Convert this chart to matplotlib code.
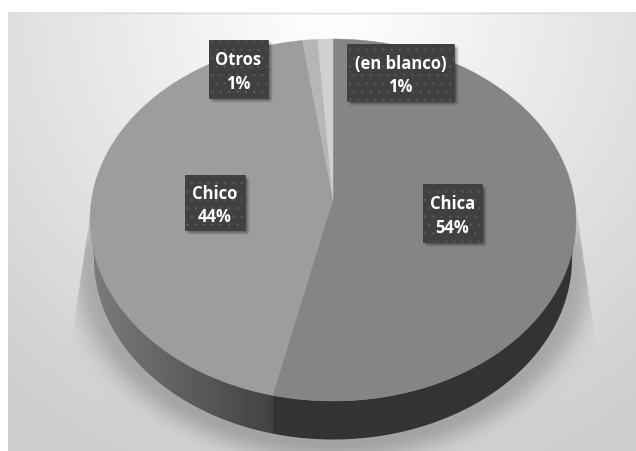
import numpy as np
import matplotlib
matplotlib.use("Agg")
import matplotlib.pyplot as plt
from matplotlib.patches import Polygon, Rectangle

# Survey shares, clockwise from twelve o'clock
categories = ["Chica", "Chico", "Otros", "(en blanco)"]
shares = [54, 44, 1, 1]
top_colors = ["#858585", "#9d9d9d", "#b6b6b6", "#d0d0d0"]

W, H = 636, 452
cx, cy, rx, ry = 333.0, 221.0, 243.0, 181.0   # rim of the top face
apex = (333.0, 200.0)                          # where the slices meet
depth = 38.5
label_boxes = {"Chica": (423, 185, 59, 58), "Chico": (185, 176, 60, 55),
               "Otros": (209, 41, 59, 58), "(en blanco)": (347, 45, 107, 57)}

plt.rcParams["hatch.linewidth"] = 0.6
plt.rcParams["hatch.color"] = "#575757"

fig = plt.figure(figsize=(W / 100, H / 100), dpi=100)
ax = fig.add_axes([0, 0, 1, 1])
ax.axis("off")

yy, xx = np.mgrid[0:H, 0:W] + 0.5

# Chart area: radial fade from white behind the disc to light grey at the corners
bg = 255 - 0.1 * np.hypot(xx - cx, (yy - 10) * 1.0)
bg = np.clip(bg, 205, 255)

# Soft floor shadow around the lower half, cut off along two slanted side lines
dist = (np.sqrt(((xx - cx) / (rx - 2)) ** 2 + ((yy - (cy + depth + 2)) / (ry + 2)) ** 2) - 1) * rx
falloff = np.exp(-(np.clip(dist, 0, None) / 24.0) ** 2)
left_cut = 88 - (yy - 225) * 14 / 95
right_cut = 578 + (yy - 215) * 15 / 105
inside = np.clip(xx - left_cut, 0, 1.5) / 1.5 * np.clip(right_cut - xx, 0, 1.5) / 1.5
bg = bg - 48 * falloff * inside * np.clip((yy - 190) / 60, 0, 1)

bg[yy < 13] = 255
bg[xx < 8] = 255
ax.imshow(bg, cmap="gray", vmin=0, vmax=255, extent=(0, W, H, 0), zorder=0, aspect="auto")
ax.plot([8, W], [13.5, 13.5], color="#dedede", lw=1, zorder=1)


def rim(t, yc=cy, a=rx, b=ry):
    return np.column_stack([cx + a * np.sin(t), yc - b * np.cos(t)])


# Wall of the disc: lit from the left on the Chico side, dark under Chica
edges = np.radians(np.cumsum([0] + shares) * 3.6)
t_all = np.linspace(np.pi / 2, 3 * np.pi / 2, 240)
wall = np.vstack([rim(t_all, cy + depth, rx - 4, ry), rim(t_all, cy, rx - 1, ry)[::-1]])
wall_patch = Polygon(wall, closed=True, fc="none", ec="none", zorder=2)
ax.add_patch(wall_patch)
split = cx + rx * np.sin(edges[1])
shade = np.where(xx < split, 122 - 56 * np.clip((xx - 95) / (split - 95), 0, 1), 51.0)
wall_img = ax.imshow(shade, cmap="gray", vmin=0, vmax=255, extent=(0, W, H, 0), zorder=2, aspect="auto")
wall_img.set_clip_path(wall_patch)

# Top face
for v0, v1, color in zip(edges[:-1], edges[1:], top_colors):
    arc = rim(np.linspace(v0, v1, 200))
    ax.add_patch(Polygon(np.vstack([apex, arc]), closed=True, fc=color, ec=color, lw=0.3, zorder=3))

# Soft drop shadows under the label boxes
alpha = np.zeros((H, W))
for x, y, w, h in label_boxes.values():
    a = np.clip((xx - x - 1) / 4, 0, 1) * np.clip((x + w + 5 - xx) / 4, 0, 1)
    a = a * np.clip((yy - y - 1) / 4, 0, 1) * np.clip((y + h + 5 - yy) / 4, 0, 1)
    alpha = np.maximum(alpha, a * 0.4)
rgba = np.zeros((H, W, 4))
rgba[..., 3] = alpha
ax.imshow(rgba, extent=(0, W, H, 0), zorder=4, aspect="auto")
ax.set_xlim(0, W)
ax.set_ylim(H, 0)

# Data labels on dark dotted boxes
for name, value in zip(categories, shares):
    x, y, w, h = label_boxes[name]
    ax.add_patch(Rectangle((x, y), w, h, fc="#404040", ec="#575757", lw=0, hatch="..", zorder=5))
    ax.add_patch(Rectangle((x, y), w, h, fc="none", ec="#404040", lw=0.6, zorder=5))
    ax.text(x + w / 2, y + h / 2 + 2, f"{name}\n{value}%", color="white", ha="center", va="center",
            fontsize=12, fontweight="bold", family="Open Sans", linespacing=1.4, zorder=6)

fig.savefig("out.png", dpi=100)
